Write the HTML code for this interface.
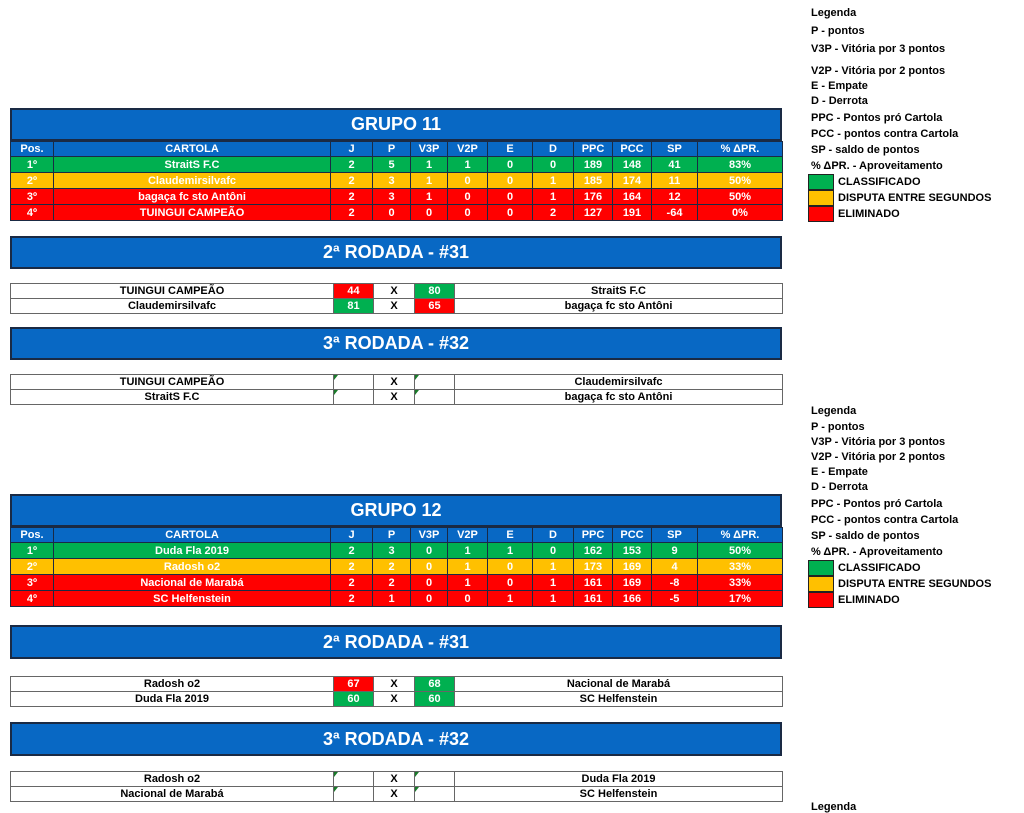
<!DOCTYPE html>
<html><head><meta charset="utf-8"><style>
*{margin:0;padding:0;box-sizing:border-box}
body{width:1024px;height:807px;background:#fff;position:relative;overflow:hidden;font-family:"Liberation Sans",sans-serif;font-weight:bold;font-size:11px;color:#000}
.bar{position:absolute;left:10px;width:772px;background:#0868c4;color:#fff;text-align:center;border:2px solid #1a2a44;font-size:18px;}
table{position:absolute;left:10px;border-collapse:collapse;table-layout:fixed;width:772px}
td{text-align:center;border:1px solid #1a2a44;height:16px;line-height:14px;padding:0;white-space:nowrap;overflow:hidden}
.st td{color:#fff}
.h td{background:#0868c4;height:15px}
.g td{background:#00b050}.y td{background:#ffc000}.r td{background:#ff0000}
.m td{border:1px solid #666;height:15px;line-height:13px}
.m td.sr{background:#ff0000;color:#fff}.m td.sg{background:#00b050;color:#fff}
.m td.e{position:relative}
.m td.e:before{content:"";position:absolute;left:0;top:0;border-top:5px solid #1a7a2a;border-right:4px solid transparent}
.leg{position:absolute;left:811px;font-size:11px;line-height:12px;white-space:nowrap}
.box{position:absolute;left:808px;width:26px;height:16px;border:1px solid #222}
.bl{position:absolute;left:838px;font-size:11px;line-height:12px}
</style></head><body>

<div class="bar" style="top:108px;height:33px;line-height:29px">GRUPO 11</div>
<table class="st" style="top:141px">
<colgroup><col style="width:43px"><col style="width:277px"><col style="width:42px"><col style="width:38px"><col style="width:37px"><col style="width:40px"><col style="width:45px"><col style="width:41px"><col style="width:39px"><col style="width:39px"><col style="width:46px"><col style="width:85px"></colgroup>
<tr class="h"><td>Pos.</td><td>CARTOLA</td><td>J</td><td>P</td><td>V3P</td><td>V2P</td><td>E</td><td>D</td><td>PPC</td><td>PCC</td><td>SP</td><td>% ΔPR.</td></tr>
<tr class="g"><td>1º</td><td>StraitS F.C</td><td>2</td><td>5</td><td>1</td><td>1</td><td>0</td><td>0</td><td>189</td><td>148</td><td>41</td><td>83%</td></tr>
<tr class="y"><td>2º</td><td>Claudemirsilvafc</td><td>2</td><td>3</td><td>1</td><td>0</td><td>0</td><td>1</td><td>185</td><td>174</td><td>11</td><td>50%</td></tr>
<tr class="r"><td>3º</td><td>bagaça fc sto Antôni</td><td>2</td><td>3</td><td>1</td><td>0</td><td>0</td><td>1</td><td>176</td><td>164</td><td>12</td><td>50%</td></tr>
<tr class="r"><td>4º</td><td>TUINGUI CAMPEÃO</td><td>2</td><td>0</td><td>0</td><td>0</td><td>0</td><td>2</td><td>127</td><td>191</td><td>-64</td><td>0%</td></tr>
</table>

<div class="bar" style="top:236px;height:33px;line-height:29px">2ª RODADA - #31</div>
<table class="m" style="top:283px">
<colgroup><col style="width:323px"><col style="width:40px"><col style="width:41px"><col style="width:40px"><col style="width:328px"></colgroup>
<tr><td>TUINGUI CAMPEÃO</td><td class="sr">44</td><td>X</td><td class="sg">80</td><td>StraitS F.C</td></tr>
<tr><td>Claudemirsilvafc</td><td class="sg">81</td><td>X</td><td class="sr">65</td><td>bagaça fc sto Antôni</td></tr>
</table>

<div class="bar" style="top:327px;height:33px;line-height:29px">3ª RODADA - #32</div>
<table class="m" style="top:374px">
<colgroup><col style="width:323px"><col style="width:40px"><col style="width:41px"><col style="width:40px"><col style="width:328px"></colgroup>
<tr><td>TUINGUI CAMPEÃO</td><td class="e"></td><td>X</td><td class="e"></td><td>Claudemirsilvafc</td></tr>
<tr><td>StraitS F.C</td><td class="e"></td><td>X</td><td class="e"></td><td>bagaça fc sto Antôni</td></tr>
</table>

<div class="bar" style="top:494px;height:33px;line-height:29px">GRUPO 12</div>
<table class="st" style="top:527px">
<colgroup><col style="width:43px"><col style="width:277px"><col style="width:42px"><col style="width:38px"><col style="width:37px"><col style="width:40px"><col style="width:45px"><col style="width:41px"><col style="width:39px"><col style="width:39px"><col style="width:46px"><col style="width:85px"></colgroup>
<tr class="h"><td>Pos.</td><td>CARTOLA</td><td>J</td><td>P</td><td>V3P</td><td>V2P</td><td>E</td><td>D</td><td>PPC</td><td>PCC</td><td>SP</td><td>% ΔPR.</td></tr>
<tr class="g"><td>1º</td><td>Duda Fla 2019</td><td>2</td><td>3</td><td>0</td><td>1</td><td>1</td><td>0</td><td>162</td><td>153</td><td>9</td><td>50%</td></tr>
<tr class="y"><td>2º</td><td>Radosh o2</td><td>2</td><td>2</td><td>0</td><td>1</td><td>0</td><td>1</td><td>173</td><td>169</td><td>4</td><td>33%</td></tr>
<tr class="r"><td>3º</td><td>Nacional de Marabá</td><td>2</td><td>2</td><td>0</td><td>1</td><td>0</td><td>1</td><td>161</td><td>169</td><td>-8</td><td>33%</td></tr>
<tr class="r"><td>4º</td><td>SC Helfenstein</td><td>2</td><td>1</td><td>0</td><td>0</td><td>1</td><td>1</td><td>161</td><td>166</td><td>-5</td><td>17%</td></tr>
</table>

<div class="bar" style="top:625px;height:34px;line-height:30px">2ª RODADA - #31</div>
<table class="m" style="top:676px">
<colgroup><col style="width:323px"><col style="width:40px"><col style="width:41px"><col style="width:40px"><col style="width:328px"></colgroup>
<tr><td>Radosh o2</td><td class="sr">67</td><td>X</td><td class="sg">68</td><td>Nacional de Marabá</td></tr>
<tr><td>Duda Fla 2019</td><td class="sg">60</td><td>X</td><td class="sg">60</td><td>SC Helfenstein</td></tr>
</table>

<div class="bar" style="top:722px;height:34px;line-height:30px">3ª RODADA - #32</div>
<table class="m" style="top:771px">
<colgroup><col style="width:323px"><col style="width:40px"><col style="width:41px"><col style="width:40px"><col style="width:328px"></colgroup>
<tr><td>Radosh o2</td><td class="e"></td><td>X</td><td class="e"></td><td>Duda Fla 2019</td></tr>
<tr><td>Nacional de Marabá</td><td class="e"></td><td>X</td><td class="e"></td><td>SC Helfenstein</td></tr>
</table>

<div class="leg" style="top:7px">Legenda</div>
<div class="leg" style="top:25px">P - pontos</div>
<div class="leg" style="top:43px">V3P - Vitória por 3 pontos</div>
<div class="leg" style="top:65px">V2P - Vitória por 2 pontos</div>
<div class="leg" style="top:80px">E - Empate</div>
<div class="leg" style="top:95px">D - Derrota</div>
<div class="leg" style="top:112px">PPC - Pontos pró Cartola</div>
<div class="leg" style="top:128px">PCC - pontos contra Cartola</div>
<div class="leg" style="top:144px">SP - saldo de pontos</div>
<div class="leg" style="top:160px">% ΔPR. - Aproveitamento</div>
<div class="box" style="top:174px;background:#00b050"></div>
<div class="box" style="top:190px;background:#ffc000"></div>
<div class="box" style="top:206px;background:#ff0000"></div>
<div class="bl" style="top:176px">CLASSIFICADO</div>
<div class="bl" style="top:192px">DISPUTA ENTRE SEGUNDOS</div>
<div class="bl" style="top:208px">ELIMINADO</div>

<div class="leg" style="top:405px">Legenda</div>
<div class="leg" style="top:421px">P - pontos</div>
<div class="leg" style="top:436px">V3P - Vitória por 3 pontos</div>
<div class="leg" style="top:451px">V2P - Vitória por 2 pontos</div>
<div class="leg" style="top:466px">E - Empate</div>
<div class="leg" style="top:481px">D - Derrota</div>
<div class="leg" style="top:498px">PPC - Pontos pró Cartola</div>
<div class="leg" style="top:514px">PCC - pontos contra Cartola</div>
<div class="leg" style="top:530px">SP - saldo de pontos</div>
<div class="leg" style="top:546px">% ΔPR. - Aproveitamento</div>
<div class="box" style="top:560px;background:#00b050"></div>
<div class="box" style="top:576px;background:#ffc000"></div>
<div class="box" style="top:592px;background:#ff0000"></div>
<div class="bl" style="top:562px">CLASSIFICADO</div>
<div class="bl" style="top:578px">DISPUTA ENTRE SEGUNDOS</div>
<div class="bl" style="top:594px">ELIMINADO</div>
<div class="leg" style="top:801px">Legenda</div>
</body></html>
